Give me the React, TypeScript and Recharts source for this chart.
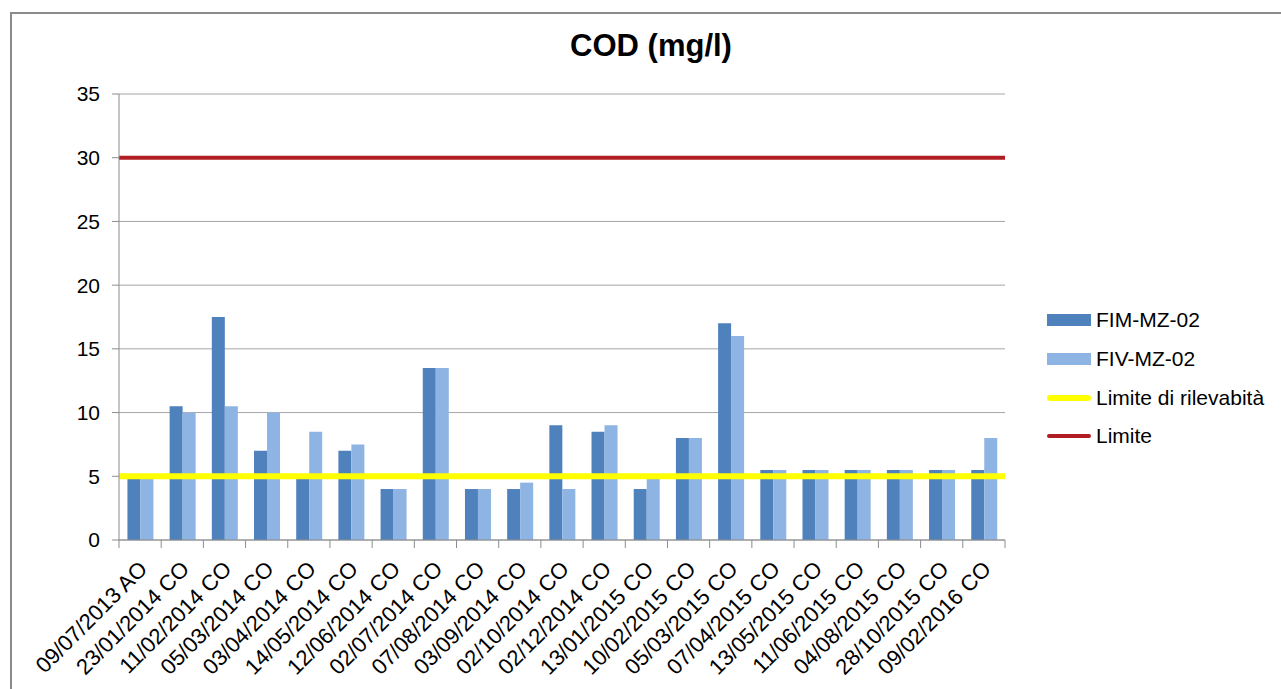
import React from "react";
import {
  BarChart,
  Bar,
  XAxis,
  YAxis,
  CartesianGrid,
  ReferenceLine,
} from "recharts";

const dates = [
  "09/07/2013 AO",
  "23/01/2014 CO",
  "11/02/2014 CO",
  "05/03/2014 CO",
  "03/04/2014 CO",
  "14/05/2014 CO",
  "12/06/2014 CO",
  "02/07/2014 CO",
  "07/08/2014 CO",
  "03/09/2014 CO",
  "02/10/2014 CO",
  "02/12/2014 CO",
  "13/01/2015 CO",
  "10/02/2015 CO",
  "05/03/2015 CO",
  "07/04/2015 CO",
  "13/05/2015 CO",
  "11/06/2015 CO",
  "04/08/2015 CO",
  "28/10/2015 CO",
  "09/02/2016 CO",
];
const fim = [5, 10.5, 17.5, 7, 5, 7, 4, 13.5, 4, 4, 9, 8.5, 4, 8, 17, 5.5, 5.5, 5.5, 5.5, 5.5, 5.5];
const fiv = [5, 10, 10.5, 10, 8.5, 7.5, 4, 13.5, 4, 4.5, 4, 9, 5, 8, 16, 5.5, 5.5, 5.5, 5.5, 5.5, 8];
const yTicks = [0, 5, 10, 15, 20, 25, 30, 35];
const rilevabilita = 5;
const limite = 30;

const data = dates.map((d, i) => ({ date: d, fim: fim[i], fiv: fiv[i] }));

const FONT = "'Liberation Sans', Arial, sans-serif";
const PLOT_W = 886;
const STEP = PLOT_W / dates.length;

const legendItems = [
  { label: "FIM-MZ-02", color: "#4F81BD", kind: "bar", w: 12 },
  { label: "FIV-MZ-02", color: "#8EB4E3", kind: "bar", w: 12 },
  { label: "Limite di rilevabità", color: "#FFFF00", kind: "line", w: 6 },
  { label: "Limite", color: "#B01E23", kind: "line", w: 4 },
];

const DateTick = (props: any) => {
  const { x, y, payload, index } = props;
  const left = x - STEP / 2;
  const tx = x + 3;
  const ty = y + 25;
  return (
    <g>
      <line x1={left} y1={y} x2={left} y2={y + 8} stroke="#8c8c8c" />
      {index === dates.length - 1 && (
        <line x1={x + STEP / 2} y1={y} x2={x + STEP / 2} y2={y + 8} stroke="#8c8c8c" />
      )}
      <text
        x={tx}
        y={ty}
        transform={`rotate(-45, ${tx}, ${ty})`}
        textAnchor="end"
        dy="0.35em"
        fontSize={22}
        fontFamily={FONT}
        fill="#000"
      >
        {payload.value}
      </text>
    </g>
  );
};

const LegendBox = () => (
  <div
    style={{
      position: "absolute",
      left: 1047,
      top: 301,
      fontFamily: FONT,
      fontSize: 21,
      color: "#000",
    }}
  >
    {legendItems.map((it) => (
      <div
        key={it.label}
        style={{ display: "flex", alignItems: "center", height: 38.7, whiteSpace: "nowrap" }}
      >
        <span
          style={{
            display: "inline-block",
            width: 44,
            height: it.w,
            background: it.color,
            borderRadius: it.kind === "bar" ? 0 : 3,
            marginRight: 5,
          }}
        />
        <span>{it.label}</span>
      </div>
    ))}
  </div>
);

export default function App() {
  return (
    <div style={{ position: "absolute", left: 0, top: 0, width: 1281, height: 689, background: "#fff", overflow: "hidden" }}>
      <div
        style={{
          position: "absolute",
          left: 10,
          top: 12,
          width: 1300,
          height: 700,
          borderLeft: "2px solid #8a8a8a",
          borderTop: "2px solid #8a8a8a",
        }}
      />
      <div
        style={{
          position: "absolute",
          left: 0,
          width: 1302,
          top: 28,
          textAlign: "center",
          fontFamily: FONT,
          fontWeight: "bold",
          fontSize: 31,
          color: "#000",
        }}
      >
        COD (mg/l)
      </div>
      <div style={{ position: "absolute", left: 0, top: 0 }}>
        <BarChart
          width={1281}
          height={689}
          data={data}
          margin={{ top: 94, right: 276, left: 19, bottom: 9 }}
          barCategoryGap="20%"
          barGap={0}
        >
          <CartesianGrid vertical={false} stroke="#a6a6a6" />
          <XAxis
            dataKey="date"
            interval={0}
            height={140}
            tickLine={false}
            tickSize={0}
            tickMargin={0}
            axisLine={{ stroke: "#8c8c8c" }}
            tick={<DateTick />}
          />
          <YAxis
            domain={[0, 35]}
            ticks={yTicks}
            width={100}
            tickSize={7}
            tickMargin={12}
            axisLine={{ stroke: "#8c8c8c" }}
            tickLine={{ stroke: "#8c8c8c" }}
            tick={{ fontSize: 21, fontFamily: FONT, fill: "#000" }}
          />
          <Bar dataKey="fim" name="FIM-MZ-02" fill="#4F81BD" isAnimationActive={false} />
          <Bar dataKey="fiv" name="FIV-MZ-02" fill="#8EB4E3" isAnimationActive={false} />
          <ReferenceLine y={rilevabilita} stroke="#FFFF00" strokeWidth={6} />
          <ReferenceLine y={limite} stroke="#B01E23" strokeWidth={4} />
        </BarChart>
      </div>
      <LegendBox />
    </div>
  );
}
